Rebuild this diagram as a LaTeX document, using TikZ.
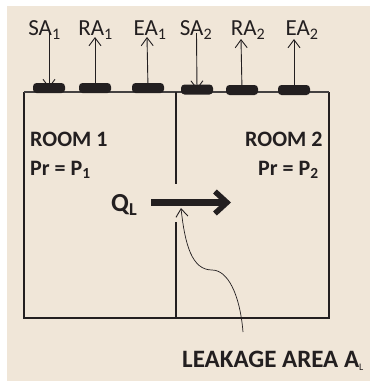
\documentclass[tikz,border=0pt]{standalone}
\usepackage{fontspec}
\setmainfont{Carlito}
\usetikzlibrary{arrows.meta}
\definecolor{paper}{HTML}{F0E6D8}
\definecolor{ink}{HTML}{231F20}
\tikzset{
  wall/.style={draw=ink,line width=2.1pt},
  topwall/.style={draw=ink!85,line width=1.3pt},
  damper/.style={draw=none,fill=ink,rounded corners=3.5pt,minimum width=32pt,minimum height=10pt,inner sep=0pt},
  flow/.style={draw=ink,line width=0.9pt,-{Straight Barb[length=8pt,width=12pt,line width=0.9pt]}},
  lab/.style={font=\fontsize{23}{23}\selectfont,text=ink,inner sep=0pt},
  bold/.style={font=\fontsize{22}{22}\selectfont\bfseries,text=ink,inner sep=0pt,anchor=west}
}
\begin{document}
\begin{tikzpicture}[x=1pt,y=-1pt]
\useasboundingbox (0,0) rectangle (370,381);
\fill[white] (0,0) rectangle (370,381);
\fill[paper] (7,6) rectangle (370,381);
\coordinate (tl) at (24,92);
\coordinate (tr) at (329,92);
\coordinate (bl) at (24,318);
\coordinate (br) at (329,318);
\draw[wall] (tl) -- (bl) -- (br) -- (tr);
\draw[topwall] (tl) -- (tr);
\coordinate (wt) at (176,92);
\coordinate (wa) at (176,184);
\coordinate (wb) at (176,222);
\coordinate (wf) at (176,318);
\draw[wall] (wt) -- (wa);
\draw[wall] (wb) -- (wf);
\node[damper] (d1) at (49,88) {};
\node[damper] (d2) at (95,88) {};
\node[damper] (d3) at (148,88) {};
\node[damper] (d4) at (197,89.5) {};
\node[damper] (d5) at (242,90) {};
\node[damper] (d6) at (294,90) {};
\node[lab] (s1) at (44.5,30) {SA\textsubscript{1}};
\node[lab] (r1) at (95.5,30) {RA\textsubscript{1}};
\node[lab] (e1) at (150,30) {EA\textsubscript{1}};
\node[lab] (s2) at (196,30) {SA\textsubscript{2}};
\node[lab] (r2) at (248,30) {RA\textsubscript{2}};
\node[lab] (e2) at (302,30) {EA\textsubscript{2}};
\draw[flow] (49,30) -- (d1.center);
\draw[flow] (d2.center) -- (95,37);
\draw[flow] (d3.center) -- (147,37);
\draw[flow] (196.5,33) -- (d4.center);
\draw[flow] (d5.center) -- (241,39);
\draw[flow] (d6.center) -- (294,39);
\node[bold] (r1a) at (30,139) {ROOM 1};
\node[bold] (p1) at (30,170) {Pr = P\textsubscript{1}};
\node[bold] (r2a) at (245,139) {ROOM 2};
\node[bold] (p2) at (258,170) {Pr = P\textsubscript{2}};
\node[bold,font=\fontsize{26}{26}\selectfont\bfseries] (q) at (111,205) {Q\textsubscript{L}};
\coordinate (qs) at (151,202.5);
\coordinate (qe) at (231,202.5);
\draw[draw=ink,line width=6.5pt,-{Straight Barb[length=12pt,width=22pt,line width=5.5pt]}] (qs) -- (qe);
\coordinate (lk) at (243,332);
\coordinate (lh) at (181,208);
\draw[flow,line width=0.7pt] (lk) .. controls (240,295) and (228,270) .. (212,270) .. controls (192,270) and (185,245) .. (lh);
\node[bold,font=\fontsize{25}{25}\selectfont\bfseries] (la) at (182,361) {LEAKAGE AREA A\raisebox{-3pt}{\fontsize{10}{10}\selectfont\mdseries L}};
\end{tikzpicture}
\end{document}
